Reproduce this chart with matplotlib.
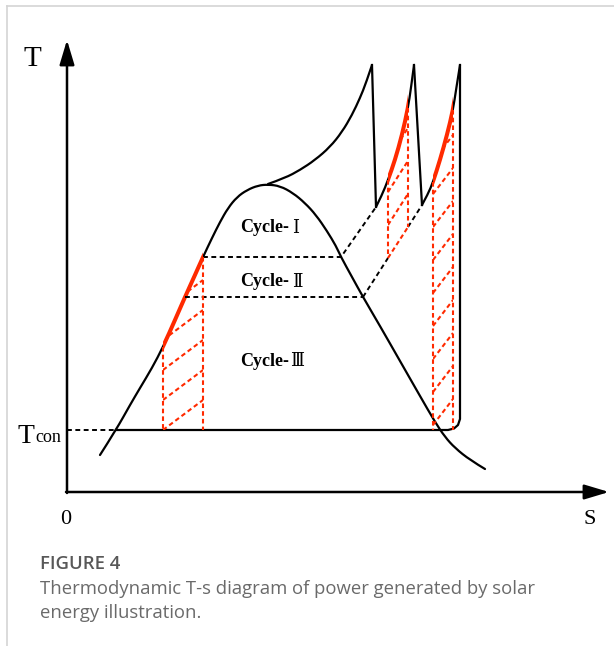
import numpy as np
import matplotlib.pyplot as plt
from matplotlib.patches import Polygon, Rectangle, PathPatch
from matplotlib.path import Path

# T-s diagram drawn in pixel units (x right, y down)
dome = [(100, 455), (116, 430), (130, 405), (140, 388), (152, 368), (163, 347),
        (175, 320), (185, 297), (195, 275), (203, 257), (212, 238), (220, 222),
        (228, 208), (237, 197), (247, 190), (258, 185.5), (268, 184.5), (280, 186),
        (293, 193), (305, 203), (316, 215), (327, 231), (336, 246), (341, 257),
        (352, 277), (363, 297), (380, 326), (400, 361), (420, 396), (435, 422),
        (445, 437), (455, 448), (470, 460), (485, 469)]
superheat = [(268, 184), (285, 178), (300, 170), (315, 160), (330, 147),
             (342, 132), (352, 115), (360, 98), (366, 83), (372, 65)]
reheat1 = [(376, 207), (382, 195), (388, 180), (395, 160), (402, 135),
           (408, 108), (411, 88), (414, 65)]
reheat2 = [(422, 205), (428, 194), (433, 182), (440, 160), (447, 135),
           (453, 110), (456, 90), (460, 65)]
drops = [[(372, 65), (376, 207)], [(414, 65), (422, 205)]]
condense = [(116, 430), (448, 430), (454, 428.5), (458, 425), (460, 419), (460, 65)]

# heat input sections (thick red) as x-ranges on the curves above
heat_x = [(163, 203), (388, 408), (433, 453)]
# shaded strips under the heat input sections
strip1 = [(163, 430), (163, 347), (175, 320), (185, 297), (195, 275), (203, 257), (203, 430)]
strip2 = [(388, 258), (388, 180), (395, 160), (402, 135), (408, 108), (408, 227)]
strip3 = [(433, 430), (433, 182), (440, 160), (447, 135), (453, 110), (453, 430)]

# cycle boundaries (dashed)
bound1 = [(203, 257), (341, 257), (376, 207)]
bound2 = [(185, 297), (363, 297), (422, 205)]
t_con = 430

fig = plt.figure(figsize=(6.14, 6.46), dpi=100)
ax = fig.add_axes([0, 0, 1, 1])
ax.set_xlim(0, 614)
ax.set_ylim(646, 0)
ax.axis('off')

# page frame
ax.plot([7, 614], [6, 6], color='#d4d4d4', lw=1.2)
ax.plot([7, 7], [6, 646], color='#d4d4d4', lw=1.2)

# axes with arrows
arrow = dict(arrowstyle='-|>,head_length=1.5,head_width=0.45',
             lw=1.8, color='black', shrinkA=0, shrinkB=0)
ax.annotate('', xy=(67, 40), xytext=(67, 493), arrowprops=arrow)
ax.annotate('', xy=(609, 492), xytext=(66, 492), arrowprops=arrow)

serif = ['Liberation Serif', 'DejaVu Serif']
ax.text(32, 59, 'T', fontsize=21, family=serif, ha='center', va='center')
ax.text(590, 520, 'S', fontsize=16, family=serif, ha='center', va='center')
ax.text(66, 519, '0', fontsize=16, family=serif, ha='center', va='center')
ax.text(17, 443, 'T', fontsize=20, family=serif, ha='left', va='baseline')
ax.text(35, 442, 'con', fontsize=13, family=serif, ha='left', va='baseline')


def smooth(pts):
    # quadratic B-spline path through the control polygon
    p = np.array(pts, dtype=float)
    verts, codes = [p[0]], [Path.MOVETO]
    for i in range(1, len(p) - 1):
        end = p[-1] if i == len(p) - 2 else (p[i] + p[i + 1]) / 2
        verts += [p[i], end]
        codes += [Path.CURVE3, Path.CURVE3]
    if len(p) == 2:
        verts.append(p[1])
        codes.append(Path.LINETO)
    return Path(verts, codes)


def curve(pts, **kw):
    patch = PathPatch(smooth(pts), fill=False, capstyle='round', joinstyle='round', **kw)
    ax.add_patch(patch)
    return patch


def line(pts, **kw):
    a = np.array(pts, dtype=float)
    return ax.plot(a[:, 0], a[:, 1], **kw)[0]


black = dict(color='black', lw=1.6)
for pts in (dome, superheat, reheat1, reheat2):
    curve(pts, **black)
for pts in drops:
    line(pts, **black)
line(condense, color='black', lw=1.6, solid_joinstyle='round')

dash = dict(color='black', lw=1.4, linestyle=(0, (2.5, 1.8)))
line(bound1, **dash)
line(bound2[:2], **dash)
line([bound2[1], (388, 258)], **dash)
line([(408, 227), bound2[2]], **dash)
line([(67, t_con), (116, t_con)], **dash)

red = '#ff2a00'
rdash = dict(color=red, lw=1.5, linestyle=(0, (2.2, 1.5)))

# thick red heat input sections, same curves clipped to their x-range
for pts, (x0, x1) in zip((dome, reheat1, reheat2), heat_x):
    box = Rectangle((x0, 0), x1 - x0, 646, transform=ax.transData)
    p = curve(pts, edgecolor=red, lw=2.9)
    p.set_capstyle('butt')
    p.set_clip_path(box)

# vertical edges of the strips
line([(163, 347), (163, t_con)], **rdash)
line([(203, 257), (203, t_con)], **rdash)
line([(388, 180), (388, 258)], **rdash)
line([(408, 108), (408, 227)], **rdash)
line([(433, 182), (433, t_con)], **rdash)
line([(453, 110), (453, t_con)], **rdash)
line([(388, 258), (408, 227)], **rdash)


# diagonal hatching clipped to each strip
def hatch(poly, x0, x1, y_starts, slope):
    clip = Polygon(poly, closed=True, transform=ax.transData, fill=False, lw=0)
    ax.add_patch(clip)
    for y0 in y_starts:
        ln = line([(x0, y0), (x1, y0 + slope * (x1 - x0))], **rdash)
        ln.set_clip_path(clip)


hatch(strip1, 163, 203, [430, 400, 370, 340, 310, 280], -0.75)
hatch(strip2, 388, 408, [225, 192, 159], (205 - 297) / (422 - 363))
hatch(strip3, 433, 453, [425, 392, 359, 326, 293, 260, 227, 194, 161], -1.3)

# cycle labels
numerals = ['Ⅰ', 'Ⅱ', 'Ⅲ']
label_y = [228, 282, 361]
for y, num in zip(label_y, numerals):
    ax.text(289, y, 'Cycle-', fontsize=13, family=serif, weight='bold',
            ha='right', va='center')
    ax.text(292 if num != 'Ⅲ' else 290, y, num, fontsize=13,
            family=['DejaVu Serif', 'Noto Sans CJK SC'], ha='left', va='center')

# caption
ax.text(40, 564, 'FIGURE 4', fontsize=13.3, family='Open Sans', weight='semibold',
        color='#585858', ha='left', va='center')
ax.text(40, 589, 'Thermodynamic T-s diagram of power generated by solar',
        fontsize=13.3, family='Open Sans', color='#6a6a6a', ha='left', va='center')
ax.text(40, 613, 'energy illustration.', fontsize=13.3, family='Open Sans',
        color='#6a6a6a', ha='left', va='center')

fig.savefig('out.png', dpi=100)
